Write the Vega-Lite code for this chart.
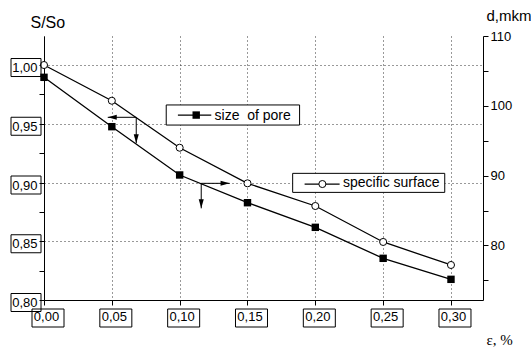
{
  "$schema": "https://vega.github.io/schema/vega-lite/v6.json",
  "width": 439,
  "height": 264,
  "autosize": "none",
  "padding": {"left": 44, "top": 36, "right": 48, "bottom": 49},
  "background": "white",
  "config": {
    "view": {"stroke": null},
    "font": "Liberation Sans",
    "axis": {
      "domainColor": "#000",
      "domainWidth": 1,
      "tickColor": "#000",
      "tickWidth": 1,
      "tickSize": 5,
      "labelColor": "#000",
      "labelFont": "Liberation Sans",
      "labelFontSize": 13,
      "titleColor": "#000",
      "titleFontWeight": "normal",
      "titleFont": "Liberation Sans",
      "gridColor": "#333",
      "gridDash": [1, 3],
      "gridWidth": 1
    }
  },
  "datasets": {
    "surface": [
      {"x": 0.00, "y": 1.0000},
      {"x": 0.05, "y": 0.9696},
      {"x": 0.10, "y": 0.9296},
      {"x": 0.15, "y": 0.8993},
      {"x": 0.20, "y": 0.8800},
      {"x": 0.25, "y": 0.8494},
      {"x": 0.30, "y": 0.8298}
    ],
    "pore": [
      {"x": 0.00, "y": 104.08},
      {"x": 0.05, "y": 97.01},
      {"x": 0.10, "y": 90.09},
      {"x": 0.15, "y": 86.12},
      {"x": 0.20, "y": 82.59},
      {"x": 0.25, "y": 78.15},
      {"x": 0.30, "y": 75.14}
    ],
    "yboxes": [
      {"x": 0, "y": 0.80}, {"x": 0, "y": 0.85}, {"x": 0, "y": 0.90}, {"x": 0, "y": 0.95}, {"x": 0, "y": 1.00}
    ],
    "xboxes": [
      {"x": 0.00, "y": 0.80}, {"x": 0.05, "y": 0.80}, {"x": 0.10, "y": 0.80}, {"x": 0.15, "y": 0.80},
      {"x": 0.20, "y": 0.80}, {"x": 0.25, "y": 0.80}, {"x": 0.30, "y": 0.80}
    ],
    "arrows": [
      {"x": 0.0680, "x2": 0.0470, "y": 0.9555, "y2": 0.9555},
      {"x": 0.0680, "x2": 0.0680, "y": 0.9555, "y2": 0.9334},
      {"x": 0.1159, "x2": 0.1368, "y": 0.8993, "y2": 0.8993},
      {"x": 0.1159, "x2": 0.1159, "y": 0.8993, "y2": 0.8780}
    ],
    "heads": [
      {"x": 0.0470, "y": 0.9555, "dir": "left"},
      {"x": 0.0680, "y": 0.9334, "dir": "down"},
      {"x": 0.1368, "y": 0.8993, "dir": "right"},
      {"x": 0.1159, "y": 0.8780, "dir": "down"}
    ],
    "legboxes": [
      {"x": 0.0901, "x2": 0.1884, "y": 0.9660, "y2": 0.9489},
      {"x": 0.1833, "x2": 0.2954, "y": 0.9078, "y2": 0.8916}
    ],
    "leglines": [
      {"x": 0.0987, "x2": 0.1233, "y": 0.9574},
      {"x": 0.1921, "x2": 0.2179, "y": 0.8987}
    ],
    "legsquare": [{"x": 0.1122, "y": 0.9574}],
    "legcircle": [{"x": 0.2052, "y": 0.8987}],
    "legtext": [
      {"x": 0.1257, "y": 0.9528, "label": "size\u00a0 of pore"},
      {"x": 0.2204, "y": 0.8959, "label": "specific surface"}
    ]
  },
  "layer": [
    {
      "encoding": {
        "x": {
          "field": "x",
          "type": "quantitative",
          "scale": {"domain": [0, 0.3236], "nice": false, "zero": false},
          "axis": {
            "values": [0, 0.025, 0.05, 0.075, 0.1, 0.125, 0.15, 0.175, 0.2, 0.225, 0.25, 0.275, 0.3],
            "labelExpr": "round(datum.value*100) % 5 == 0 ? replace(format(datum.value, '.2f'), '.', ',') : ''",
            "labelOffset": 2,
            "labelPadding": 5,
            "labelBaseline": "top",
            "labelFlush": false,
            "labelOverlap": false,
            "grid": true,
            "gridOpacity": {"condition": {"test": "round(datum.value*100) % 5 == 0", "value": 1}, "value": 0},
            "title": "ε, %",
            "titleFont": "Liberation Serif",
            "titleFontSize": 15,
            "titleAngle": 0,
            "titleAlign": "left",
            "titleBaseline": "alphabetic",
            "titleX": 442,
            "titleY": 44
          }
        },
        "y": {
          "field": "y",
          "type": "quantitative",
          "scale": {"domain": [0.8, 1.0247], "nice": false, "zero": false},
          "axis": {
            "orient": "left",
            "values": [0.8, 0.825, 0.85, 0.875, 0.9, 0.925, 0.95, 0.975, 1.0],
            "labelExpr": "round(datum.value*100) % 5 == 0 ? replace(format(datum.value, '.2f'), '.', ',') : ''",
            "labelPadding": 2,
            "labelOffset": 2.5,
            "labelBaseline": "middle",
            "labelFlush": false,
            "labelOverlap": false,
            "grid": true,
            "gridOpacity": {"condition": {"test": "round(datum.value*100) % 5 == 0", "value": 1}, "value": 0},
            "title": "S/So",
            "titleFontSize": 16,
            "titleAngle": 0,
            "titleAlign": "left",
            "titleBaseline": "alphabetic",
            "titleX": -14,
            "titleY": -9
          }
        }
      },
      "layer": [
        {
          "data": {"name": "surface"},
          "mark": {"type": "line", "color": "#000", "strokeWidth": 1.3}
        },
        {
          "data": {"name": "surface"},
          "mark": {"type": "point", "shape": "circle", "filled": true, "fill": "#fff", "stroke": "#000", "strokeWidth": 1, "size": 50, "opacity": 1}
        },
        {
          "data": {"name": "yboxes"},
          "mark": {"type": "point", "shape": "M-1,-0.6L1,-0.6L1,0.6L-1,0.6Z", "size": 900, "filled": false, "stroke": "#000", "strokeWidth": 1, "opacity": 1, "xOffset": -18, "yOffset": 2.5}
        },
        {
          "data": {"name": "xboxes"},
          "mark": {"type": "point", "shape": "M-1,-0.5625L1,-0.5625L1,0.5625L-1,0.5625Z", "size": 1024, "filled": false, "stroke": "#000", "strokeWidth": 1, "opacity": 1, "xOffset": 4, "yOffset": 18}
        },
        {
          "data": {"name": "arrows"},
          "mark": {"type": "rule", "color": "#000", "strokeWidth": 1},
          "encoding": {"x2": {"field": "x2"}, "y2": {"field": "y2"}}
        },
        {
          "data": {"name": "heads"},
          "mark": {"type": "point", "filled": true, "fill": "#000", "stroke": null, "size": 324, "opacity": 1},
          "encoding": {
            "shape": {
              "field": "dir",
              "type": "nominal",
              "scale": {
                "domain": ["left", "down", "right"],
                "range": ["M0,0L1,-0.28L1,0.28Z", "M0,0L-0.28,-1L0.28,-1Z", "M0,0L-1,-0.28L-1,0.28Z"]
              },
              "legend": null
            }
          }
        },
        {
          "data": {"name": "legboxes"},
          "mark": {"type": "rect", "fill": "#fff", "stroke": "#000", "strokeWidth": 1},
          "encoding": {"x2": {"field": "x2"}, "y2": {"field": "y2"}}
        },
        {
          "data": {"name": "leglines"},
          "mark": {"type": "rule", "color": "#000", "strokeWidth": 1.3},
          "encoding": {"x2": {"field": "x2"}}
        },
        {
          "data": {"name": "legsquare"},
          "mark": {"type": "point", "shape": "square", "filled": true, "fill": "#000", "size": 55, "opacity": 1}
        },
        {
          "data": {"name": "legcircle"},
          "mark": {"type": "point", "shape": "circle", "filled": true, "fill": "#fff", "stroke": "#000", "strokeWidth": 1, "size": 50, "opacity": 1}
        },
        {
          "data": {"name": "legtext"},
          "mark": {"type": "text", "align": "left", "baseline": "alphabetic", "fontSize": 14, "font": "Liberation Sans", "color": "#000"},
          "encoding": {"text": {"field": "label"}}
        }
      ]
    },
    {
      "data": {"name": "pore"},
      "encoding": {
        "x": {"field": "x", "type": "quantitative"},
        "y": {
          "field": "y",
          "type": "quantitative",
          "scale": {"domain": [72.18, 110], "nice": false, "zero": false},
          "axis": {
            "orient": "right",
            "values": [75, 80, 85, 90, 95, 100, 105, 110],
            "labelExpr": "datum.value % 10 == 0 ? datum.label : ''",
            "labelPadding": 2,
            "labelBaseline": "middle",
            "labelFlush": false,
            "labelOverlap": false,
            "grid": false,
            "title": "d,mkm",
            "titleFontSize": 15,
            "titleAngle": 0,
            "titleAlign": "left",
            "titleBaseline": "alphabetic",
            "titleX": 3,
            "titleY": -16
          }
        }
      },
      "layer": [
        {"mark": {"type": "line", "color": "#000", "strokeWidth": 1.3}},
        {"mark": {"type": "point", "shape": "square", "filled": true, "fill": "#000", "size": 55, "opacity": 1}}
      ]
    }
  ],
  "resolve": {"scale": {"y": "independent"}}
}
